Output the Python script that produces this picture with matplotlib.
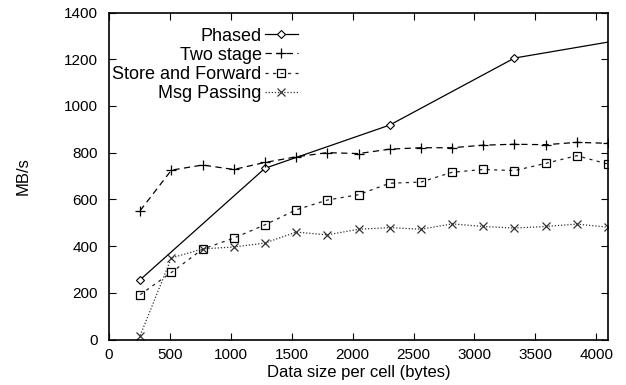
import matplotlib
matplotlib.use('Agg')
import matplotlib.pyplot as plt

plt.rcParams['font.family'] = ['Liberation Sans', 'DejaVu Sans']

# dane
sizes = [256, 512, 768, 1024, 1280, 1536, 1792, 2048, 2304, 2560, 2816,
         3072, 3328, 3584, 3840, 4096]
phased_sizes = [256, 1280, 2304, 3328, 4352]
phased = [256, 733, 918, 1205, 1296]
two_stage = [552, 725, 747, 728, 758, 782, 800, 796, 815, 821, 821, 832,
             836, 834, 844, 840]
store_fwd = [192, 287, 387, 434, 491, 555, 597, 620, 669, 674, 716, 728,
             723, 754, 787, 751]
msg_passing = [17, 349, 388, 396, 413, 460, 448, 472, 479, 472, 495, 484,
               477, 484, 494, 481]

fig = plt.figure(figsize=(6.26, 3.85), dpi=100)
ax = fig.add_axes([109/626, 45.5/385, 499/626, 327/385])

ax.plot(phased_sizes, phased, color='black', lw=0.9, ls='-',
        marker='D', markersize=4.5, mfc='white', mec='black', mew=0.8,
        label='Phased')
ax.plot(sizes, two_stage, color='black', lw=0.9, ls=(0, (5, 3.5)),
        marker='+', markersize=7, mew=0.9, label='Two stage')
ax.plot(sizes, store_fwd, color='#222222', lw=0.9, ls=(0, (2.5, 3.5)),
        marker='s', markersize=6.3, mfc='none', mec='black', mew=0.9,
        label='Store and Forward')
ax.plot(sizes, msg_passing, color='#333333', lw=0.9, ls=(0, (1, 1.5)),
        marker='x', markersize=6, mew=0.9, label='Msg Passing')

ax.set_xlim(0, 4096)
ax.set_ylim(0, 1400)
ax.set_xticks(range(0, 4001, 500))
ax.set_yticks(range(0, 1401, 200))
ax.tick_params(direction='in', length=5, labelsize=11, top=True, right=True,
               width=0.8)
ax.tick_params(axis='x', pad=6)
ax.tick_params(axis='y', pad=8)
for s in ax.spines.values():
    s.set_linewidth(1.2)

ax.set_xlabel('Data size per cell (bytes)', fontsize=12, labelpad=2)
ax.set_ylabel('MB/s', fontsize=12, labelpad=24)

ax.legend(loc='upper right', bbox_to_anchor=(0.378, 0.954), frameon=False,
          markerfirst=False, fontsize=13, handlelength=1.8,
          handletextpad=0.2, labelspacing=0.12, borderpad=0,
          borderaxespad=0)

fig.savefig('out.png', dpi=100)
